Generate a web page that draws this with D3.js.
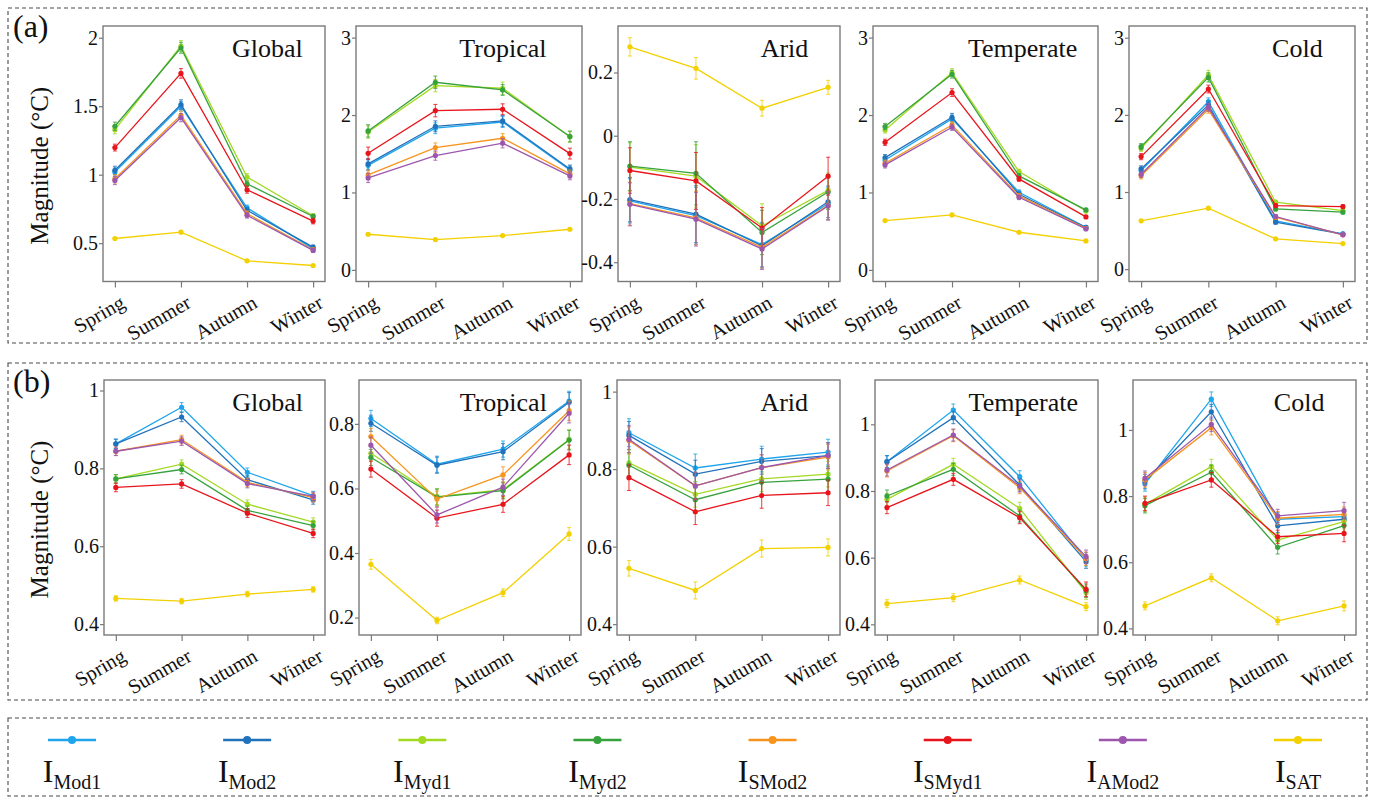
<!DOCTYPE html>
<html>
<head>
<meta charset="utf-8">
<script src="https://cdn.jsdelivr.net/npm/d3@7"></script>
<style>
  body { margin: 0; background: #fff; }
  svg { display: block; }
  svg text { font-family: "Liberation Serif", "Tinos", "Times New Roman", "DejaVu Serif", serif !important; }
</style>
</head>
<body>
<svg id="chart" width="1375" height="799"></svg>
<script>
// ---- data -------------------------------------------------------------
const seasons = ["Spring", "Summer", "Autumn", "Winter"];
const regions = ["Global", "Tropical", "Arid", "Temperate", "Cold"];
const seriesKeys = ["Mod1", "Mod2", "Myd1", "Myd2", "SMod2", "SMyd1", "AMod2", "SAT"];
const seriesColors = ["#1ea5ec", "#1f72bb", "#a4d922", "#36a23c", "#f7941d", "#e8141b", "#9c56ad", "#f3d000"];

// rows follow seriesKeys, columns follow seasons
// (a) panels
const aGlobal = [
  [1.020, 1.500, 0.758, 0.460],
  [1.032, 1.512, 0.740, 0.471],
  [1.329, 1.940, 0.983, 0.700],
  [1.354, 1.927, 0.934, 0.695],
  [0.970, 1.434, 0.715, 0.452],
  [1.198, 1.740, 0.890, 0.661],
  [0.958, 1.417, 0.703, 0.447],
  [0.534, 0.580, 0.371, 0.337]
];
const aGlobalErr = [
  [0.030, 0.035, 0.020, 0.015],
  [0.030, 0.035, 0.020, 0.015],
  [0.030, 0.040, 0.025, 0.015],
  [0.030, 0.040, 0.020, 0.015],
  [0.030, 0.030, 0.020, 0.015],
  [0.025, 0.035, 0.025, 0.020],
  [0.030, 0.030, 0.020, 0.015],
  [0.005, 0.005, 0.005, 0.005]
];
const aTropical = [
  [1.350, 1.830, 1.910, 1.290],
  [1.369, 1.855, 1.924, 1.304],
  [1.780, 2.380, 2.346, 1.720],
  [1.795, 2.423, 2.324, 1.722],
  [1.227, 1.580, 1.700, 1.240],
  [1.506, 2.057, 2.075, 1.502],
  [1.188, 1.476, 1.636, 1.214],
  [0.460, 0.392, 0.443, 0.525]
];
const aTropicalErr = [
  [0.070, 0.070, 0.070, 0.050],
  [0.070, 0.070, 0.070, 0.050],
  [0.080, 0.080, 0.080, 0.070],
  [0.080, 0.080, 0.070, 0.070],
  [0.060, 0.060, 0.060, 0.050],
  [0.080, 0.080, 0.070, 0.070],
  [0.060, 0.060, 0.060, 0.050],
  [0.010, 0.010, 0.010, 0.010]
];
const aArid = [
  [-0.206, -0.253, -0.344, -0.215],
  [-0.202, -0.248, -0.348, -0.209],
  [-0.099, -0.128, -0.285, -0.173],
  [-0.096, -0.119, -0.306, -0.178],
  [-0.215, -0.260, -0.353, -0.220],
  [-0.110, -0.143, -0.292, -0.128],
  [-0.217, -0.264, -0.358, -0.222],
  [0.281, 0.213, 0.087, 0.153]
];
const aAridErr = [
  [0.070, 0.090, 0.070, 0.050],
  [0.070, 0.090, 0.070, 0.050],
  [0.077, 0.100, 0.070, 0.055],
  [0.077, 0.100, 0.070, 0.055],
  [0.068, 0.085, 0.065, 0.045],
  [0.072, 0.090, 0.065, 0.060],
  [0.068, 0.085, 0.065, 0.045],
  [0.029, 0.034, 0.025, 0.022]
];
const aTemperate = [
  [1.420, 1.950, 1.003, 0.551],
  [1.450, 1.971, 0.977, 0.548],
  [1.808, 2.548, 1.270, 0.760],
  [1.851, 2.527, 1.214, 0.775],
  [1.377, 1.872, 0.955, 0.538],
  [1.648, 2.290, 1.175, 0.684],
  [1.356, 1.842, 0.938, 0.529],
  [0.637, 0.710, 0.486, 0.374]
];
const aTemperateErr = [
  [0.040, 0.050, 0.030, 0.020],
  [0.040, 0.050, 0.030, 0.020],
  [0.040, 0.050, 0.030, 0.020],
  [0.040, 0.050, 0.030, 0.020],
  [0.040, 0.040, 0.030, 0.020],
  [0.040, 0.050, 0.030, 0.020],
  [0.040, 0.040, 0.030, 0.020],
  [0.008, 0.008, 0.008, 0.008]
];
const aCold = [
  [1.278, 2.171, 0.626, 0.457],
  [1.300, 2.128, 0.609, 0.455],
  [1.567, 2.517, 0.868, 0.760],
  [1.588, 2.486, 0.781, 0.738],
  [1.210, 2.072, 0.673, 0.445],
  [1.459, 2.335, 0.824, 0.811],
  [1.230, 2.098, 0.682, 0.445],
  [0.626, 0.790, 0.393, 0.332]
];
const aColdErr = [
  [0.040, 0.050, 0.025, 0.020],
  [0.040, 0.050, 0.025, 0.020],
  [0.040, 0.060, 0.025, 0.020],
  [0.040, 0.060, 0.025, 0.020],
  [0.040, 0.050, 0.025, 0.020],
  [0.040, 0.050, 0.025, 0.025],
  [0.040, 0.050, 0.025, 0.020],
  [0.008, 0.008, 0.008, 0.008]
];

// (b) panels
const bGlobal = [
  [0.863, 0.957, 0.790, 0.730],
  [0.863, 0.932, 0.771, 0.719],
  [0.773, 0.811, 0.708, 0.662],
  [0.773, 0.797, 0.692, 0.653],
  [0.844, 0.874, 0.764, 0.725],
  [0.751, 0.760, 0.685, 0.633],
  [0.844, 0.870, 0.761, 0.728],
  [0.466, 0.459, 0.477, 0.489]
];
const bGlobalErr = [
  [0.012, 0.012, 0.011, 0.011],
  [0.012, 0.012, 0.011, 0.011],
  [0.011, 0.011, 0.011, 0.011],
  [0.011, 0.011, 0.011, 0.011],
  [0.011, 0.011, 0.011, 0.011],
  [0.011, 0.011, 0.011, 0.011],
  [0.011, 0.011, 0.011, 0.011],
  [0.007, 0.007, 0.007, 0.007]
];
const bTropical = [
  [0.817, 0.675, 0.722, 0.871],
  [0.802, 0.672, 0.714, 0.867],
  [0.709, 0.575, 0.596, 0.752],
  [0.696, 0.573, 0.593, 0.750],
  [0.761, 0.567, 0.642, 0.841],
  [0.660, 0.508, 0.551, 0.704],
  [0.734, 0.518, 0.604, 0.833],
  [0.365, 0.191, 0.277, 0.459]
];
const bTropicalErr = [
  [0.025, 0.025, 0.025, 0.030],
  [0.025, 0.025, 0.025, 0.030],
  [0.025, 0.025, 0.025, 0.030],
  [0.025, 0.025, 0.025, 0.030],
  [0.025, 0.025, 0.025, 0.030],
  [0.025, 0.025, 0.025, 0.030],
  [0.025, 0.025, 0.025, 0.030],
  [0.015, 0.010, 0.012, 0.020]
];
const bArid = [
  [0.894, 0.803, 0.826, 0.844],
  [0.887, 0.787, 0.820, 0.835],
  [0.816, 0.735, 0.775, 0.787],
  [0.810, 0.721, 0.766, 0.774],
  [0.874, 0.757, 0.804, 0.831],
  [0.778, 0.690, 0.732, 0.739],
  [0.877, 0.757, 0.804, 0.835],
  [0.544, 0.487, 0.595, 0.598]
];
const bAridErr = [
  [0.036, 0.036, 0.033, 0.033],
  [0.036, 0.036, 0.033, 0.033],
  [0.033, 0.033, 0.033, 0.033],
  [0.033, 0.033, 0.033, 0.033],
  [0.035, 0.035, 0.033, 0.033],
  [0.033, 0.033, 0.033, 0.033],
  [0.035, 0.035, 0.033, 0.033],
  [0.020, 0.022, 0.022, 0.022]
];
const bTemperate = [
  [0.888, 1.043, 0.843, 0.595],
  [0.888, 1.020, 0.818, 0.588],
  [0.775, 0.880, 0.748, 0.495],
  [0.785, 0.865, 0.725, 0.501],
  [0.860, 0.966, 0.810, 0.597],
  [0.750, 0.835, 0.720, 0.505],
  [0.863, 0.968, 0.815, 0.603],
  [0.462, 0.480, 0.533, 0.453]
];
const bTemperateErr = [
  [0.018, 0.018, 0.018, 0.020],
  [0.018, 0.018, 0.018, 0.020],
  [0.018, 0.018, 0.018, 0.020],
  [0.018, 0.018, 0.018, 0.020],
  [0.018, 0.018, 0.018, 0.020],
  [0.018, 0.018, 0.018, 0.022],
  [0.018, 0.018, 0.018, 0.020],
  [0.012, 0.012, 0.012, 0.012]
];
const bCold = [
  [0.837, 1.093, 0.730, 0.738],
  [0.844, 1.055, 0.710, 0.730],
  [0.775, 0.889, 0.667, 0.723],
  [0.771, 0.872, 0.645, 0.711],
  [0.849, 1.007, 0.733, 0.745],
  [0.778, 0.849, 0.677, 0.687],
  [0.854, 1.017, 0.740, 0.756],
  [0.468, 0.553, 0.423, 0.468]
];
const bColdErr = [
  [0.022, 0.022, 0.020, 0.022],
  [0.022, 0.022, 0.020, 0.022],
  [0.022, 0.022, 0.020, 0.022],
  [0.022, 0.022, 0.020, 0.022],
  [0.022, 0.022, 0.020, 0.022],
  [0.022, 0.022, 0.020, 0.025],
  [0.022, 0.022, 0.020, 0.025],
  [0.012, 0.012, 0.012, 0.015]
];

// y-axis tick labels per panel
const ticksA = [[0.5, 1, 1.5, 2], [0, 1, 2, 3], [-0.4, -0.2, 0, 0.2], [0, 1, 2, 3], [0, 1, 2, 3]];
const ticksB = [[0.4, 0.6, 0.8, 1], [0.2, 0.4, 0.6, 0.8], [0.4, 0.6, 0.8, 1], [0.4, 0.6, 0.8, 1], [0.4, 0.6, 0.8, 1]];
const domainsA = [[0.22, 2.086], [-0.15, 3.15], [-0.461, 0.347], [-0.15, 3.15], [-0.16, 3.152]];
const domainsB = [[0.372, 1.027], [0.146, 0.936], [0.372, 1.030], [0.368, 1.133], [0.380, 1.151]];

// ---- layout -----------------------------------------------------------
const svg = d3.select("#chart");
const rows = [
  { tag: "(a)", values: [aGlobal, aTropical, aArid, aTemperate, aCold],
    errors: [aGlobalErr, aTropicalErr, aAridErr, aTemperateErr, aColdErr],
    ticks: ticksA, domains: domainsA,
    top: 26, bottom: 281.5,
    lefts: [103, 356, 618, 873, 1129], rights: [325, 582, 840, 1098, 1355],
    box: [8, 8, 1359, 335], tagY: 37 },
  { tag: "(b)", values: [bGlobal, bTropical, bArid, bTemperate, bCold],
    errors: [bGlobalErr, bTropicalErr, bAridErr, bTemperateErr, bColdErr],
    ticks: ticksB, domains: domainsB,
    top: 380, bottom: 635,
    lefts: [104, 359, 617, 875, 1133], rights: [325, 581, 840, 1098, 1356],
    box: [8, 363, 1359, 337], tagY: 392 }
];
const titleFrac = [0.74, 0.65, 0.75, 0.665, 0.745];
const borderColor = "#7a7a7a";

// dashed frames
function dashedBox([x, y, w, h]) {
  svg.append("rect").attr("x", x).attr("y", y).attr("width", w).attr("height", h)
    .attr("fill", "none").attr("stroke", "#4a4a4a").attr("stroke-width", 1.1)
    .attr("stroke-dasharray", "4,3");
}

rows.forEach(row => {
  dashedBox(row.box);
  svg.append("text").attr("x", 13).attr("y", row.tagY)
    .attr("font-size", 32).attr("fill", "#111").text(row.tag);

  const midY = (row.top + row.bottom) / 2 + 12;
  svg.append("text")
    .attr("transform", `translate(48,${midY}) rotate(-90)`)
    .attr("text-anchor", "middle").attr("font-size", 25).attr("fill", "#111")
    .text("Magnitude (°C)");

  regions.forEach((name, p) => {
    const left = row.lefts[p], right = row.rights[p];
    const x = d3.scalePoint().domain(seasons).range([left, right]).padding(0.18);
    const y = d3.scaleLinear().domain(row.domains[p]).range([row.bottom, row.top]);
    const g = svg.append("g");

    // y axis
    const yAxis = g.append("g").attr("transform", `translate(${left},0)`)
      .call(d3.axisLeft(y).tickValues(row.ticks[p]).tickSize(4).tickPadding(1)
        .tickFormat(d => String(d)));
    yAxis.attr("font-family", null);
    yAxis.select(".domain").remove();
    yAxis.selectAll(".tick line").attr("stroke", borderColor).attr("stroke-width", 1.2);
    yAxis.selectAll(".tick text").attr("font-size", 20).attr("fill", "#111");

    // x axis
    const xAxis = g.append("g").attr("transform", `translate(0,${row.bottom})`)
      .call(d3.axisBottom(x).tickSize(6));
    xAxis.attr("font-family", null);
    xAxis.select(".domain").remove();
    xAxis.selectAll(".tick line").attr("stroke", borderColor).attr("stroke-width", 1.2);
    xAxis.selectAll(".tick text")
      .attr("font-size", 20.5).attr("fill", "#111")
      .attr("x", 0).attr("y", 0).attr("dy", 0)
      .attr("text-anchor", "end")
      .attr("transform", "translate(11,25) rotate(-30)");

    // plot frame
    g.append("rect").attr("x", left).attr("y", row.top)
      .attr("width", right - left).attr("height", row.bottom - row.top)
      .attr("fill", "none").attr("stroke", borderColor).attr("stroke-width", 1.4);

    // title
    g.append("text").attr("x", left + (right - left) * titleFrac[p]).attr("y", row.top + 31)
      .attr("text-anchor", "middle").attr("font-size", 26).attr("fill", "#111").text(name);

    // series
    const vals = row.values[p], errs = row.errors[p];
    const line = d3.line().x((d, i) => x(seasons[i])).y(d => y(d));
    seriesKeys.forEach((key, s) => {
      const color = seriesColors[s];
      const sg = g.append("g");
      sg.append("path").datum(vals[s]).attr("d", line)
        .attr("fill", "none").attr("stroke", color).attr("stroke-width", 1.3);
      vals[s].forEach((v, i) => {
        const cx = x(seasons[i]);
        const e = errs[s][i];
        const y0 = y(v - e), y1 = y(v + e);
        sg.append("line").attr("x1", cx).attr("x2", cx).attr("y1", y0).attr("y2", y1)
          .attr("stroke", color).attr("stroke-width", 1.1).attr("opacity", 0.75);
        [y0, y1].forEach(yy => sg.append("line")
          .attr("x1", cx - 2).attr("x2", cx + 2).attr("y1", yy).attr("y2", yy)
          .attr("stroke", color).attr("stroke-width", 1.1).attr("opacity", 0.75));
        sg.append("circle").attr("cx", cx).attr("cy", y(v)).attr("r", 2.6).attr("fill", color);
      });
    });
  });
});

// ---- legend -----------------------------------------------------------
dashedBox([8, 718, 1359, 78]);
const legendX = d3.scalePoint().domain(seriesKeys).range([72, 1298]);
const lg = svg.append("g");
seriesKeys.forEach((key, s) => {
  const cx = legendX(key);
  lg.append("line").attr("x1", cx - 24).attr("x2", cx + 24).attr("y1", 740).attr("y2", 740)
    .attr("stroke", seriesColors[s]).attr("stroke-width", 2.6);
  lg.append("circle").attr("cx", cx).attr("cy", 740).attr("r", 4).attr("fill", seriesColors[s]);
  const t = lg.append("text").attr("x", cx).attr("y", 782).attr("text-anchor", "middle")
    .attr("fill", "#111");
  t.append("tspan").attr("font-size", 32).text("I");
  t.append("tspan").attr("font-size", 20).attr("dy", 7).text(key);
});
</script>
</body>
</html>
